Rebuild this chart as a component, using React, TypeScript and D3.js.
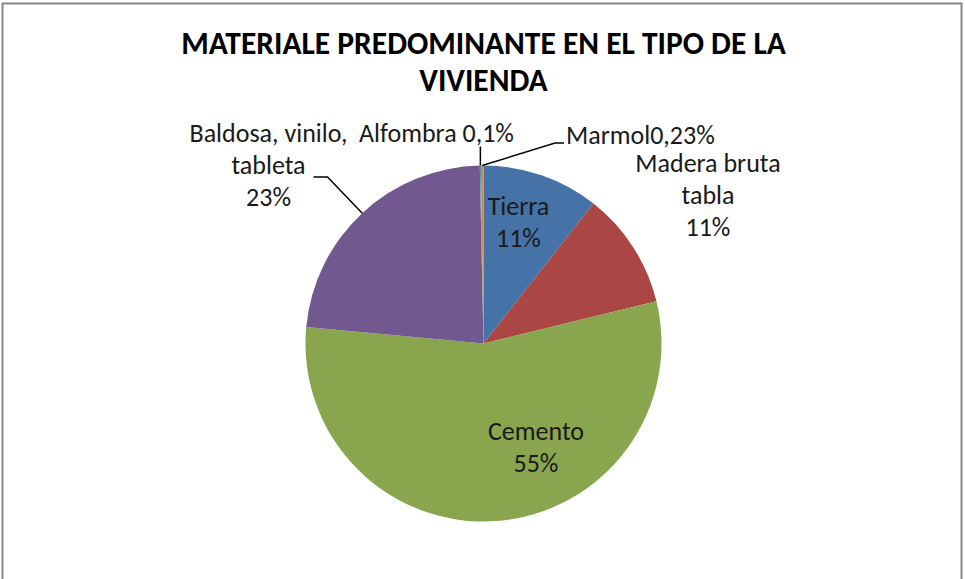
import React from "react";
import * as d3 from "d3";

// chart data
const categories = ["Tierra", "Madera bruta tabla", "Cemento", "Baldosa, vinilo, tableta", "Alfombra", "Marmol"];
const values = [10.6, 10.6, 55.3, 23.2, 0.1, 0.23];
const labelLines = [
  ["Tierra", "11%"],
  ["Madera bruta", "tabla", "11%"],
  ["Cemento", "55%"],
  ["Baldosa, vinilo,", "tableta", "23%"],
  ["Alfombra 0,1%"],
  ["Marmol0,23%"],
];
const colors = ["#4572A7", "#AA4643", "#89A54E", "#71588F", "#4198AF", "#DB843D"];
const titleLines = ["MATERIALE PREDOMINANTE EN EL TIPO DE LA", "VIVIENDA"];

// label layout, relative to the pie centre (x = line centre, y = first baseline)
const labelPos = [
  { x: 35, y: -128.5, anchor: "middle" },
  { x: 224.5, y: -171.5, anchor: "middle" },
  { x: 52.5, y: 96, anchor: "middle" },
  { x: -215, y: -201.5, anchor: "middle" },
  { x: -47, y: -201.5, anchor: "middle" },
  { x: 82.5, y: -199.5, anchor: "start" },
];
// leader line elbows, relative to the pie centre (null = no leader)
const leaders: ([number, number][] | null)[] = [
  null,
  null,
  null,
  [[-156, -166.5], [-170, -166.5]],
  [[null as any, -197]],
  [[71.5, -200.5], [80.5, -200.5]],
];

const W = 965;
const H = 579;
const FONT = "Calibri, Carlito, Lato, 'Open Sans', sans-serif";

const App = () => {
  const svgRef = React.useRef<SVGSVGElement>(null);

  React.useEffect(() => {
    const cx = 483.5;
    const cy = 343.5;
    const r = 178;

    const svgEl = d3.select(svgRef.current);
    svgEl.selectAll("*").remove();

    svgEl.append("rect")
      .attr("x", 0).attr("y", 0).attr("width", W).attr("height", H)
      .attr("fill", "#fff");
    // chart area border
    svgEl.append("rect")
      .attr("x", 2.5).attr("y", 3.5).attr("width", 959).attr("height", H + 10)
      .attr("fill", "none")
      .attr("stroke", "#868686")
      .attr("stroke-width", 2);

    // title
    svgEl.append("g").selectAll("text")
      .data(titleLines)
      .enter().append("text")
      .attr("x", cx)
      .attr("y", (d, i) => 54 + i * 37)
      .attr("text-anchor", "middle")
      .style("font-family", FONT)
      .style("font-weight", "bold")
      .style("font-size", "31.5px")
      .attr("fill", "#000")
      .text(d => d);

    const pie = d3.pie<number>().sort(null).value(d => d);
    const arcs = pie(values);
    const arc = d3.arc<d3.PieArcDatum<number>>().innerRadius(0).outerRadius(r);
    const edge = d3.arc<d3.PieArcDatum<number>>().innerRadius(r).outerRadius(r);

    const g = svgEl.append("g").attr("transform", `translate(${cx},${cy})`);
    g.selectAll(".slice")
      .data(arcs)
      .enter().append("path")
      .attr("class", "slice")
      .attr("d", arc)
      .attr("fill", (d, i) => colors[i]);

    // leader lines
    arcs.forEach((d, i) => {
      const elbows = leaders[i];
      if (!elbows) return;
      const [sx, sy] = edge.centroid(d);
      const pts: [number, number][] = [[sx, sy], ...elbows.map(([x, y]) => [x === null ? sx : x, y] as [number, number])];
      g.append("path")
        .attr("d", d3.line()(pts))
        .attr("fill", "none")
        .attr("stroke", "#000")
        .attr("stroke-width", 1.5);
    });

    // data labels
    labelLines.forEach((lines, i) => {
      const p = labelPos[i];
      const t = g.append("text")
        .attr("text-anchor", p.anchor)
        .style("font-family", FONT)
        .style("font-size", "26px")
        .attr("fill", "#1a1a1a");
      lines.forEach((line, j) => {
        t.append("tspan")
          .attr("x", p.x)
          .attr("y", p.y + j * 32)
          .text(line);
      });
    });
  }, []);

  return (
    <svg
      ref={svgRef}
      width={W}
      height={H}
      style={{ position: "absolute", left: 0, top: 0 }}
    />
  );
};

export default App;
